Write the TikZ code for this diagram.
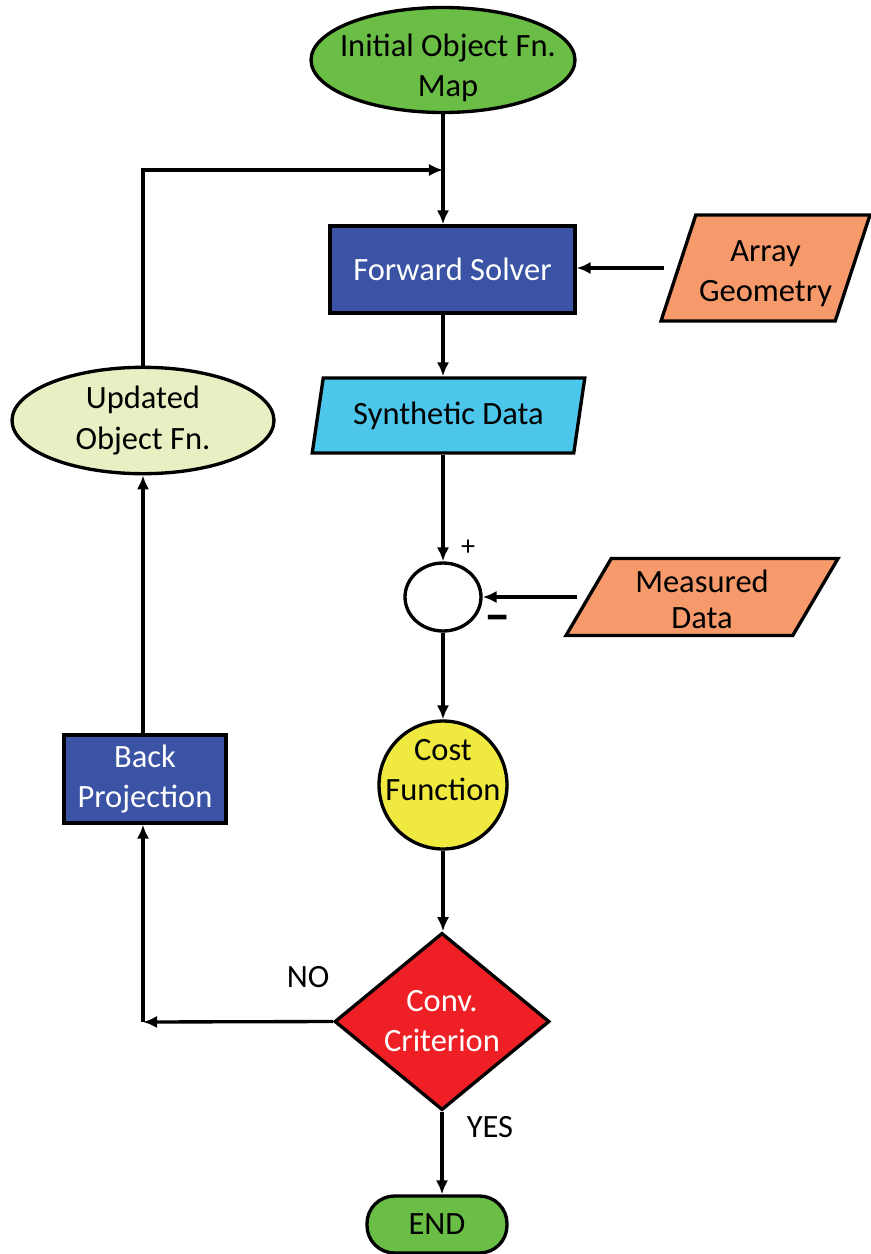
\documentclass[tikz,border=0pt]{standalone}
\usepackage{fontspec}
\setmainfont{Carlito}
\usepackage{xcolor}
\usetikzlibrary{shapes.geometric,arrows.meta}
\definecolor{startColor}{RGB}{106,189,69}
\definecolor{solverColor}{RGB}{58,83,164}
\definecolor{inputColor}{RGB}{247,154,107}
\definecolor{dataColor}{RGB}{77,198,235}
\definecolor{costColor}{RGB}{240,234,64}
\definecolor{checkColor}{RGB}{238,32,38}
\definecolor{updateColor}{RGB}{232,240,195}
\tikzset{
	box/.style={draw=black,line width=1.9pt,align=center,inner sep=2pt,font=\fontsize{18.5}{22.8}\selectfont},
	solverBox/.style={box,rectangle,fill=solverColor,text=white},
	dataBox/.style={box,trapezium,trapezium left angle=76,trapezium right angle=104,trapezium stretches=true},
	arrowLine/.style={line width=1.9pt,-{Latex[length=8pt,width=7pt]}},
	tag/.style={font=\fontsize{18.5}{22.8}\selectfont,align=center}
}

\begin{document}
\begin{tikzpicture}[x=0.02cm,y=-0.02cm]
\useasboundingbox (0,0) rectangle (870,1254);
% main column
\node[box,ellipse,fill=startColor,minimum width=5.28cm,minimum height=2.1cm,
	label={[tag,yshift=-0.16cm,xshift=0.1cm]center:Initial Object Fn.\\Map}] (init) at (443,60) {};
\node[solverBox,minimum width=4.9cm,minimum height=1.74cm] (fwd) at (452.5,269.5) {Forward Solver};
\node[dataBox,fill=inputColor,minimum width=4.18cm,minimum height=2.12cm,
	label={[tag,yshift=-0.12cm]center:Array\\Geometry}] (arr) at (765.5,268) {};
\node[dataBox,fill=dataColor,minimum width=5.46cm,minimum height=1.5cm] (syn) at (448.5,415.5) {Synthetic Data};
\node[box,ellipse,fill=white,minimum width=1.52cm,minimum height=1.36cm] (sum) at (443,597) {};
\node[dataBox,fill=inputColor,minimum width=5.44cm,minimum height=1.54cm,
	label={[tag,font=\fontsize{18.5}{20.5}\selectfont,yshift=-0.04cm]center:Measured\\Data}] (meas) at (702,597) {};
\node[box,circle,fill=costColor,minimum size=2.56cm,inner sep=0pt,
	label={[tag,yshift=0.3cm]center:Cost\\Function}] (cost) at (443,785) {};
\node[box,diamond,fill=checkColor,text=white,minimum width=4.3cm,minimum height=3.46cm,inner sep=0pt] (conv) at (442,1021.5) {Conv.\\Criterion};
\node[box,rectangle,rounded corners=0.55cm,fill=startColor,minimum width=2.8cm,minimum height=1.14cm] (endn) at (437,1224.5) {END};
% loop back
\node[solverBox,minimum width=3.24cm,minimum height=1.76cm] (back) at (145,779) {Back\\Projection};
\node[box,ellipse,fill=updateColor,minimum width=5.24cm,minimum height=2.1cm] (upd) at (143,420.5) {Updated\\Object Fn.};
\coordinate (joinPt) at (443,170);
\coordinate (noPt) at (143,1022);
%
\draw[arrowLine] (init.south) -- (init.south |- fwd.north);
\draw[arrowLine] (upd.north) |- (joinPt);
\draw[arrowLine] ([xshift=-0.25cm]arr.west) -- (arr.west -| fwd.east);
\draw[arrowLine] (init.south |- fwd.south) -- (init.south |- syn.north);
\draw[arrowLine] (init.south |- syn.south) -- (sum.north);
\draw[arrowLine] ([xshift=-0.2cm]meas.west) -- (sum.east);
\draw[arrowLine] (sum.south) -- (cost.north);
\draw[arrowLine] (cost.south) -- (cost.south |- conv.north);
\draw[arrowLine] (conv.south) -- (conv.south |- endn.north);
\draw[arrowLine] (conv.west) -- (noPt);
\draw[arrowLine] (noPt) -- (noPt |- back.south);
\draw[arrowLine] (noPt |- back.north) -- (upd.south);
%
\node[font=\fontsize{16}{18}\selectfont] (plusSign) at (468,548) {+};
\node[font=\fontsize{30}{32}\selectfont\bfseries] (minusSign) at (498,624) {–};
\node[tag] (noTag) at (308,977) {NO};
\node[tag] (yesTag) at (490,1127) {YES};
%
\end{tikzpicture}
\end{document}
